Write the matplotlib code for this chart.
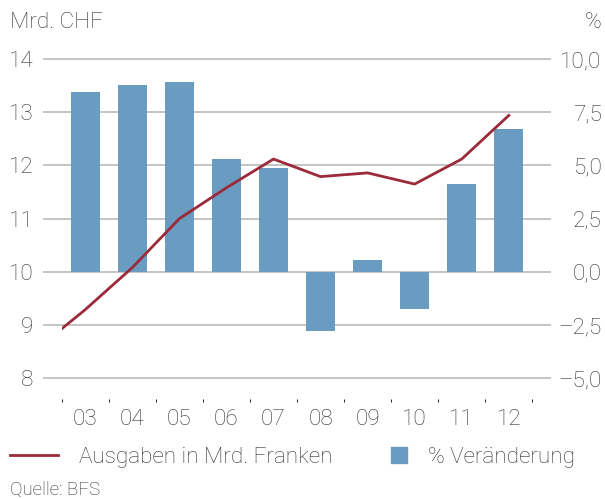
import numpy as np
import matplotlib
matplotlib.use("Agg")
import matplotlib.pyplot as plt
from matplotlib.lines import Line2D
from matplotlib.patches import Rectangle

plt.rcParams["font.family"] = ["Roboto", "DejaVu Sans"]
plt.rcParams["font.weight"] = "light"

# data
years = ["03", "04", "05", "06", "07", "08", "09", "10", "11", "12"]
pct_change = [8.45, 8.8, 8.9, 5.3, 4.9, -2.8, 0.55, -1.75, 4.15, 6.7]
line_years = ["02"] + years
ausgaben = [8.57, 9.29, 10.08, 11.0, 11.58, 12.12, 11.79, 11.86, 11.65, 12.12, 12.94]

left_ticks = [8, 9, 10, 11, 12, 13, 14]
right_ticks = [-5.0, -2.5, 0.0, 2.5, 5.0, 7.5, 10.0]
right_labels = ["–5,0", "–2,5", "0,0", "2,5", "5,0", "7,5", "10,0"]

txt = "#333333"
bar_col = "#6a9bc0"
line_col = "#9b2a3a"
fs = 16.2

fig = plt.figure(figsize=(6.05, 4.99), dpi=100)
ax = fig.add_axes([43 / 605, 1 - 399 / 499, 508 / 605, 361 / 499])
ax2 = ax.twinx()

x = np.arange(len(years))
xl = np.arange(len(line_years)) - 1

# bars on the % axis (behind), line on the CHF axis (front)
ax2.bar(x, pct_change, width=0.62, color=bar_col, zorder=3)
ln, = ax.plot(xl, ausgaben, color=line_col, lw=2.0, zorder=4)
ln.set_clip_path(Rectangle((-0.5, 0), 11, 100, transform=ax.transData))

ax.set_xlim(-0.897, 9.897)
ax.set_ylim(7.611, 14.395)
ax2.set_ylim((7.611 - 10) * 2.5, (14.395 - 10) * 2.5)

ax.set_zorder(ax2.get_zorder() + 1)
ax.patch.set_visible(False)

for a in (ax, ax2):
    for s in a.spines.values():
        s.set_visible(False)

# gridlines on the back axes
ax2.set_axisbelow(True)
ax2.set_yticks(right_ticks)
ax2.set_yticklabels(right_labels)
ax2.yaxis.grid(True, color="#c4c4c4", lw=1.4)
ax2.set_xticks(np.arange(-0.5, len(years)), minor=True)
ax2.xaxis.grid(True, which="minor", color="#a3a3a3", lw=0.9)
ax2.tick_params(axis="y", length=0, pad=36.5, labelsize=fs, labelcolor=txt)
for t in ax2.get_yticklabels():
    t.set_horizontalalignment("right")
ax2.tick_params(axis="x", which="both", length=0)

ax.set_yticks(left_ticks)
ax.tick_params(axis="y", length=0, pad=7, labelsize=fs, labelcolor=txt)
ax.set_xticks(x)
ax.set_xticklabels(years)
ax.tick_params(axis="x", length=0, pad=7, labelsize=fs, labelcolor=txt)

fig.text(10 / 605, 1 - 22 / 499, "Mrd. CHF", fontsize=fs, color=txt,
         ha="left", va="center")
fig.text(601 / 605, 1 - 22 / 499, "%", fontsize=fs, color=txt,
         ha="right", va="center")
fig.text(10 / 605, 1 - 490 / 499, "Quelle: BFS", fontsize=13.5, color=txt,
         ha="left", va="center")

h1 = Line2D([], [], color=line_col, lw=2.0)
leg1 = fig.legend([h1], ["Ausgaben in Mrd. Franken"], loc="center left",
                  bbox_to_anchor=(10 / 605, 1 - 457 / 499), frameon=False,
                  borderpad=0, borderaxespad=0, handlelength=2.13,
                  handletextpad=0.95, fontsize=fs, labelcolor=txt)
h2 = Line2D([], [], color=bar_col, marker="s", ms=11.5, ls="none")
leg2 = fig.legend([h2], ["% Veränderung"], loc="center left",
                  bbox_to_anchor=(391 / 605, 1 - 457 / 499), frameon=False,
                  borderpad=0, borderaxespad=0, handlelength=0.71,
                  handletextpad=0.92, fontsize=fs, labelcolor=txt)

fig.savefig("out.png", dpi=100, facecolor="white")
